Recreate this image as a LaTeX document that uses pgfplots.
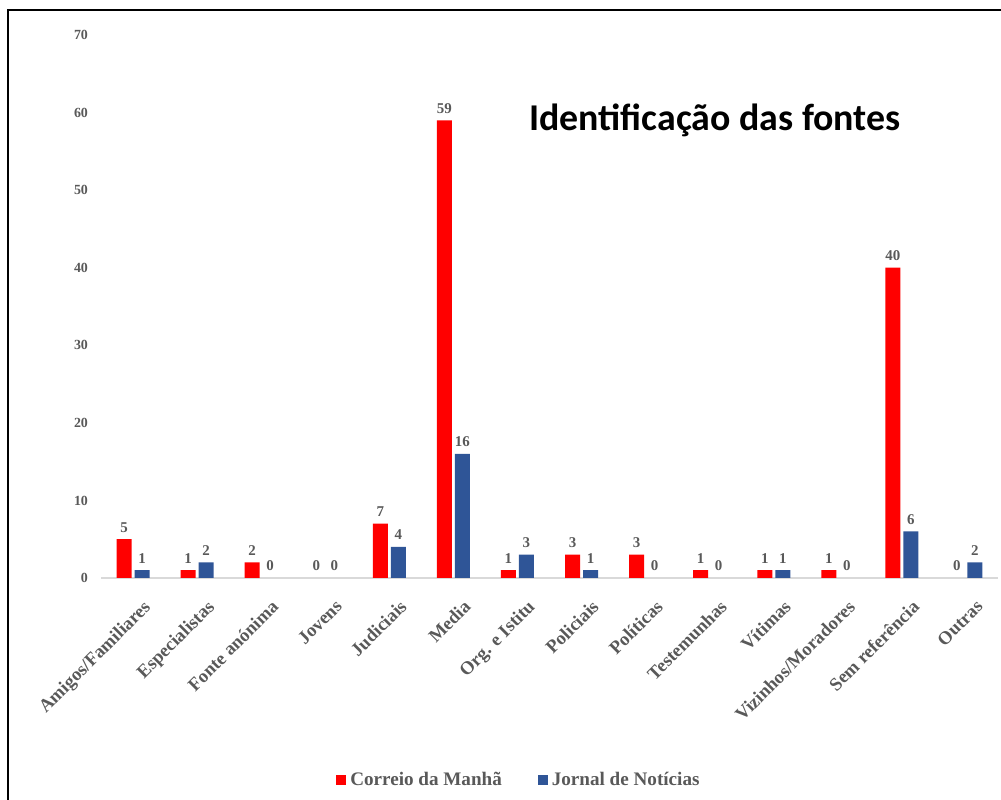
\documentclass[border=0pt]{standalone}
\usepackage{pgfplots}
\pgfplotsset{compat=1.18}
\usepackage{fontspec}
\setmainfont{Liberation Serif}
\newfontfamily\titlefont{Carlito}
\definecolor{cmred}{HTML}{FF0000}
\definecolor{jnblue}{HTML}{2F5597}
\definecolor{lblgray}{HTML}{595959}
\begin{document}
\begin{tikzpicture}
\path[use as bounding box] (0,0) rectangle (500.5bp,400bp);
\draw[line width=1.2bp,black] (4bp,0) -- (4bp,395bp) -- (500.5bp,395bp);
\begin{axis}[
  at={(50.5bp,111bp)}, anchor=south west,
  scale only axis, width=448.5bp, height=271.5bp,
  ybar=1.5bp, bar width=7.5bp,
  xmin=-0.5, xmax=13.5, ymin=0, ymax=70,
  ytick={0,10,...,70},
  xtick={0,...,13},
  xticklabels={Amigos/Familiares,Especialistas,Fonte anónima,Jovens,Judiciais,Media,Org. e Istitu,Policiais,Políticas,Testemunhas,Vítimas,Vizinhos/Moradores,Sem referência,Outras},
  major tick length=0pt,
  axis lines*=left,
  y axis line style={draw=none},
  x axis line style={draw=gray!30, line width=1pt},
  /pgf/number format/assume math mode=true,
  yticklabel style={font=\bfseries\fontsize{7}{8}\selectfont, text=lblgray, xshift=-3bp},
  xticklabel style={font=\bfseries\fontsize{9.3}{10}\selectfont, text=lblgray, rotate=45, anchor=north east, inner sep=1bp, xshift=-3bp, yshift=-9.5bp},
  nodes near coords,
  nodes near coords style={font=\bfseries\fontsize{7.5}{8}\selectfont, text=lblgray},
  legend style={at={(0.467,-0.372)}, anchor=center, draw=none, legend columns=2,
    font=\bfseries\fontsize{9.6}{10}\selectfont, text=lblgray,
    /tikz/every even column/.append style={column sep=16bp}},
  legend image code/.code={\fill[#1] (0bp,-2.5bp) rectangle (5bp,2.5bp);},
]
\addplot[fill=cmred, draw=none] coordinates {(0,5) (1,1) (2,2) (3,0) (4,7) (5,59) (6,1) (7,3) (8,3) (9,1) (10,1) (11,1) (12,40) (13,0)};
\addplot[fill=jnblue, draw=none] coordinates {(0,1) (1,2) (2,0) (3,0) (4,4) (5,16) (6,3) (7,1) (8,0) (9,0) (10,1) (11,0) (12,6) (13,2)};
\legend{Correio da Manhã, Jornal de Notícias}
\end{axis}
\node[font=\titlefont\bfseries\fontsize{19}{21}\selectfont] at (357.5bp,340bp) {Identificação das fontes};
\end{tikzpicture}
\end{document}
